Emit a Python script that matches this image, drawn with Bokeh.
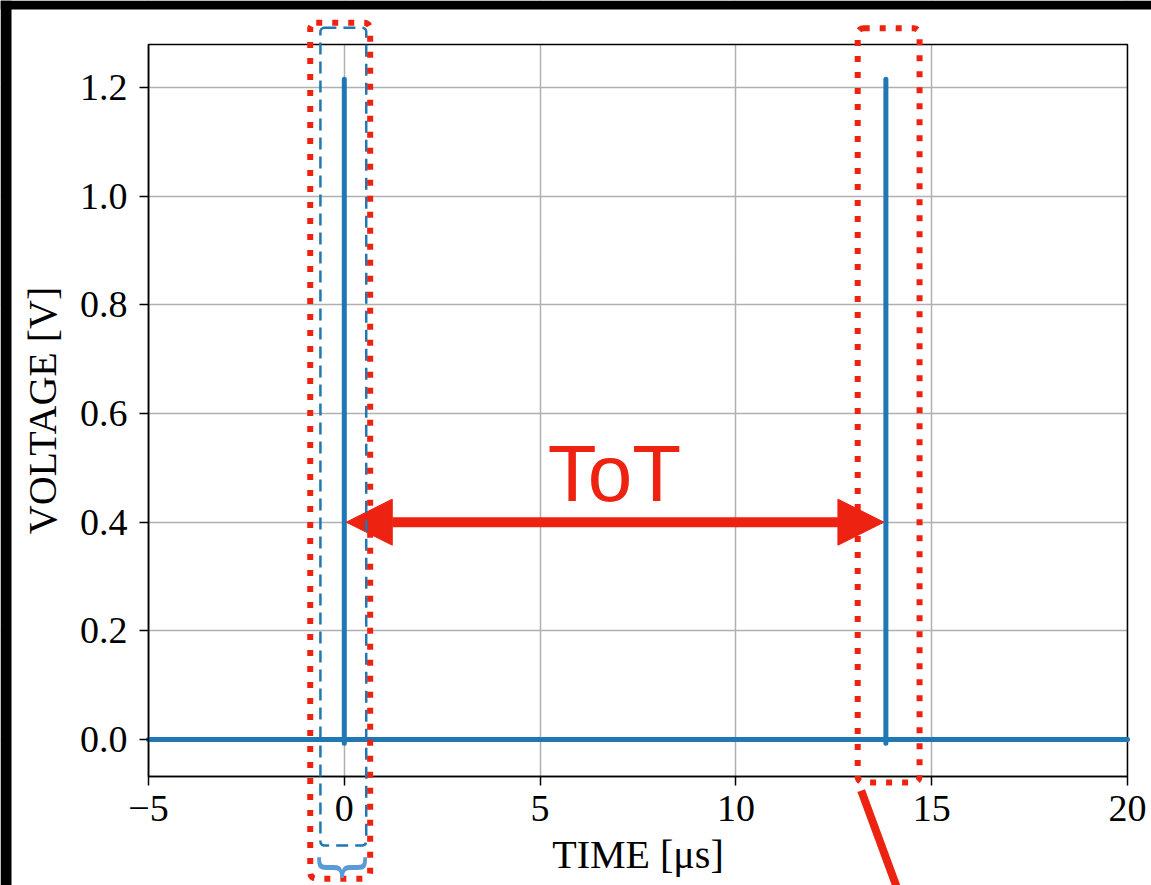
import math
from bokeh.plotting import figure
from bokeh.models import (Arrow, NormalHead, Label, FixedTicker, Range1d,
                          BoxAnnotation)
from bokeh.embed import file_html
from bokeh.resources import INLINE

# ---- data ----
time_us = [-5.0, 0.0, 0.0, 0.0, 0.0, 13.83, 13.83, 13.83, 13.83, 20.0]
voltage_v = [0.0, 0.0, 1.215, -0.007, 0.0, 0.0, 1.215, -0.007, 0.0, 0.0]
x_ticks = [-5, 0, 5, 10, 15, 20]
x_tick_labels = ["\u22125", "0", "5", "10", "15", "20"]
y_ticks = [0.0, 0.2, 0.4, 0.6, 0.8, 1.0, 1.2]
y_tick_labels = ["0.0", "0.2", "0.4", "0.6", "0.8", "1.0", "1.2"]
x_lo, x_hi = -5.0, 20.0          # axes limits
y_lo, y_hi = -0.068, 1.279
tot_start, tot_end, tot_level = 0.0, 13.83, 0.4

BLUE = "#1f77b4"
RED = "#ee2211"
SERIF = "Liberation Serif"
W, H = 1151, 885
# plot-box placement in the page (pixels): left, right, top, bottom
BL, BR, BT, BB = 148, 1127, 44, 776
sx = (BR - BL) / (x_hi - x_lo)
sy = (BB - BT) / (y_hi - y_lo)

# the drawing area is the whole page, so that the highlight boxes can leave the axes box
p = figure(width=W, height=H, output_backend="svg", toolbar_location=None,
           x_range=Range1d(x_lo - BL / sx, x_hi + (W - BR) / sx),
           y_range=Range1d(y_lo - (H - BB) / sy, y_hi + BT / sy),
           min_border=0, min_border_left=0, min_border_right=0,
           min_border_top=0, min_border_bottom=0)
p.background_fill_color = "white"
p.border_fill_color = "white"
p.outline_line_color = None

p.xgrid.grid_line_color = "#b0b0b0"
p.ygrid.grid_line_color = "#b0b0b0"
p.xgrid.grid_line_width = 1.5
p.ygrid.grid_line_width = 1.5

# white cover outside the axes box (hides grid lines there)
for kw in (dict(right=x_lo), dict(left=x_hi), dict(top=y_lo), dict(bottom=y_hi)):
    p.add_layout(BoxAnnotation(fill_color="white", fill_alpha=1, line_color=None,
                               level="underlay", **kw))
# axes box
p.add_layout(BoxAnnotation(left=x_lo, right=x_hi, bottom=y_lo, top=y_hi,
                           fill_alpha=0, line_color="black", line_alpha=1,
                           line_width=1.5, level="underlay"))

p.line(time_us, voltage_v, line_color=BLUE, line_width=5, line_cap="round",
       line_join="round")

p.xaxis.fixed_location = y_lo
p.yaxis.fixed_location = x_lo
p.xaxis.bounds = (x_lo, x_hi)
p.yaxis.bounds = (y_lo, y_hi)
p.xaxis.ticker = FixedTicker(ticks=x_ticks)
p.yaxis.ticker = FixedTicker(ticks=y_ticks)
p.xaxis.major_label_overrides = {t: l for t, l in zip(x_ticks, x_tick_labels)}
p.yaxis.major_label_overrides = {t: l for t, l in zip(y_ticks, y_tick_labels)}
for ax in (p.xaxis[0], p.yaxis[0]):
    ax.major_label_text_font = SERIF
    ax.major_label_text_font_size = "38px"
    ax.major_label_text_color = "black"
    ax.axis_label_text_font = SERIF
    ax.axis_label_text_font_size = "40px"
    ax.axis_label_text_font_style = "normal"
    ax.axis_label_text_color = "black"
    ax.axis_line_color = "black"
    ax.axis_line_width = 1.5
    ax.major_tick_line_color = "black"
    ax.major_tick_line_width = 1.5
    ax.major_tick_out = 9
    ax.major_tick_in = 0
    ax.minor_tick_line_color = None
p.xaxis.major_label_standoff = 10
p.yaxis.major_label_standoff = 12
p.xaxis.axis_label_standoff = 8
p.yaxis.axis_label_standoff = 12
p.xaxis.axis_label = "TIME [\u03bcs]"
p.yaxis.axis_label = "VOLTAGE [V]"

# ---- ToT arrow and text ----
p.add_layout(Arrow(x_start=tot_start + 0.05, y_start=tot_level,
                   x_end=tot_end - 0.05, y_end=tot_level,
                   line_color=RED, line_width=10,
                   start=NormalHead(size=46, fill_color=RED, line_color=RED),
                   end=NormalHead(size=46, fill_color=RED, line_color=RED)))
p.add_layout(Label(x=6.9, y=0.49, text="ToT", text_align="center",
                   text_baseline="alphabetic", text_font="Liberation Sans",
                   text_font_size="80px", text_color=RED))

# ---- highlight boxes around the two edges (data units) ----
def hbox(left, right, top, bottom, **kw):
    p.add_layout(BoxAnnotation(left=left, right=right, top=top, bottom=bottom,
                               fill_alpha=0, line_alpha=1, level="overlay", **kw))


hbox(-0.61, 0.56, 1.310, -0.195, line_color=BLUE, line_width=2.5,
     line_dash="12 7", border_radius=4)
hbox(-0.87, 0.66, 1.319, -0.256, line_color=RED, line_width=6,
     line_dash="6 10", border_radius=6)
hbox(13.11, 14.69, 1.309, -0.079, line_color=RED, line_width=6,
     line_dash="6 10", border_radius=6)
# brace below the blue box
p.add_layout(Label(x=0.0, y=-0.236, text="}", text_font="DejaVu Sans",
                   text_font_size="54px", text_color="#5b9bd5",
                   text_align="center", text_baseline="middle",
                   angle=-math.pi / 2, level="overlay"))
# red pointer line leaving the second box
p.add_layout(Arrow(x_start=13.2, y_start=-0.094, x_end=14.15, y_end=-0.28,
                   end=None, line_color=RED, line_width=8, level="overlay"))

# black page edges of the screenshot
for kw in (dict(left=0, right=11, top=0, bottom=H),
           dict(left=0, right=W, top=0, bottom=9)):
    p.add_layout(BoxAnnotation(left_units="canvas", right_units="canvas",
                               top_units="canvas", bottom_units="canvas",
                               fill_color="black", fill_alpha=1, line_color=None,
                               level="overlay", **kw))

open("out.html", "w").write(file_html(p, INLINE))
